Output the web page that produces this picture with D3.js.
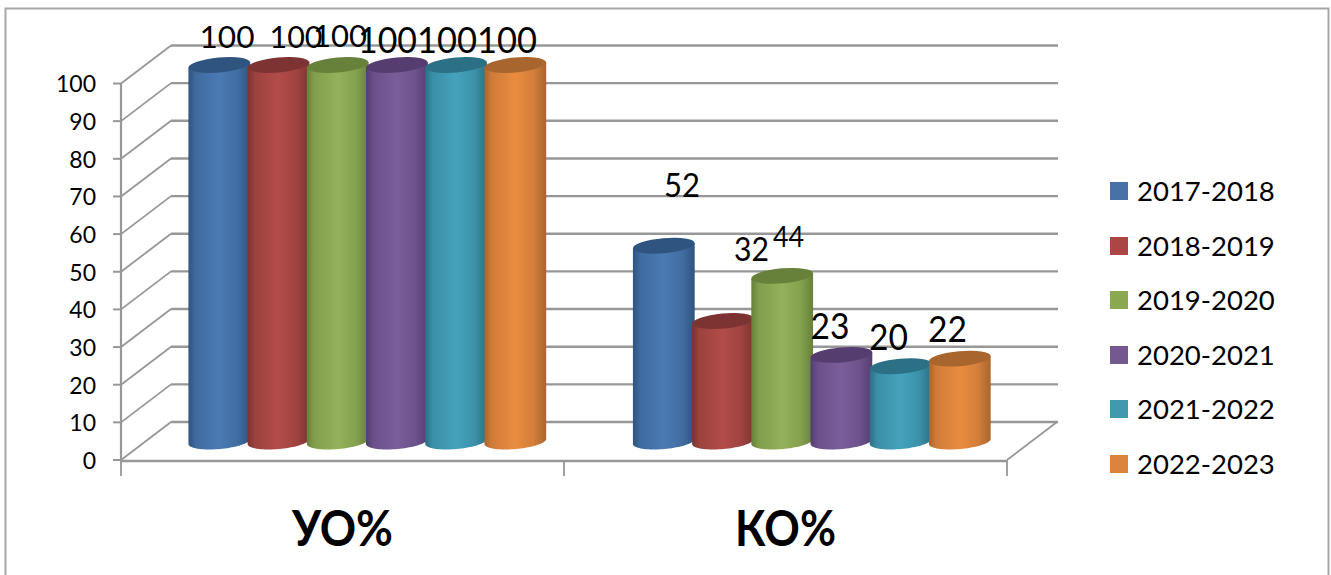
<!DOCTYPE html>
<html><head><meta charset="utf-8">
<script src="https://cdn.jsdelivr.net/npm/d3@7"></script>
<style>html,body{margin:0;padding:0;background:#fff;overflow:hidden}svg{display:block}text{font-family:Lato,"Open Sans",sans-serif;fill:#000}</style>
</head><body><div id="c"></div>
<script>
const categories = ["УО%", "КО%"];
const seriesNames = ["2017-2018","2018-2019","2019-2020","2020-2021","2021-2022","2022-2023"];
const uoValues = [100,100,100,100,100,100];
const koValues = [52,32,44,23,20,22];
const yTicks = [0,10,20,30,40,50,60,70,80,90,100];
const colors = ["#4a7ab3","#b24c49","#93b25a","#7a5d9a","#45a2bd","#e98c40"];
const darks  = ["#2f5480","#7c3331","#67803a","#553d70","#2b7085","#a9652e"];
const legendColors = ["#4672a8","#aa4643","#8ba74f","#74588f","#4198af","#db843d"];

const W=1331,H=575;
const svg=d3.select("#c").append("svg").attr("width",W).attr("height",H);
const defs=svg.append("defs");
colors.forEach((c,i)=>{
  const g=defs.append("linearGradient").attr("id","g"+i);
  [[0,darks[i]],[.12,d3.interpolateRgb(darks[i],c)(.6)],[.5,c],[.8,d3.interpolateRgb(darks[i],c)(.65)],[1,darks[i]]]
    .forEach(([o,k])=>g.append("stop").attr("offset",o).attr("stop-color",k));
});
svg.append("rect").attr("x",5.5).attr("y",8.5).attr("width",1323).attr("height",580)
  .attr("fill","#fff").attr("stroke","#a6a6a6").attr("stroke-width",2);

const y=d3.scaleLinear().domain([0,100]).range([460,83.5]);
const x=d3.scaleBand().domain(categories).range([121,1007]);
const dx=50,dy=-38;
const grid="#979797";
const g=svg.append("g").attr("fill","none").attr("stroke",grid);
const [x0,x1]=x.range();
yTicks.forEach(t=>{
  g.append("path").attr("stroke-width",1.8).attr("d",`M${x0},${y(t)}L${x0+dx},${y(t)+dy}`);
  g.append("path").attr("stroke-width",2.4).attr("d",`M${x0+dx},${y(t)+dy}H${x1+dx+1}`);
  g.append("path").attr("stroke-width",2).attr("d",`M${x0-8},${y(t)}H${x0}`);
});
g.append("path").attr("stroke-width",2.2).attr("d",`M${x0},${y(0)}V${y(100)}`);
g.append("path").attr("stroke-width",2.4).attr("d",`M${x0},${y(0)+1}H${x1}`);
g.append("path").attr("stroke-width",1.8).attr("d",`M${x1},${y(0)}L${x1+dx},${y(0)+dy}`);
[x0,x(categories[1]),x1].forEach(px=>
  g.append("path").attr("stroke-width",1.8).attr("d",`M${px},${y(0)}V${y(0)+16}`));

yTicks.forEach(t=>svg.append("text").attr("x",96).attr("y",y(t)+8.8).attr("text-anchor","end")
  .attr("font-size",23).text(t));

categories.forEach(c=>svg.append("text").attr("x",x(c)+x.bandwidth()/2).attr("y",546)
  .attr("text-anchor","middle").attr("font-size",49).attr("font-weight",700)
  .attr("textLength",101).attr("lengthAdjust","spacingAndGlyphs").text(c));

// cylinders
const step=59.2, cw=62, ry=7.5, tilt=-5*Math.PI/180, baseDrop=18.5;
const rx=cw/2;
const groupStart=[188.3,632.8];
const pt=(cx,cy,a)=>{
  const ex=rx*Math.cos(a), ey=ry*Math.sin(a);
  return [cx+ex*Math.cos(tilt)-ey*Math.sin(tilt), cy+ex*Math.sin(tilt)+ey*Math.cos(tilt)];
};
const line=d3.line();
function cyl(px,v,i){
  const top=y(v)-baseDrop, bot=y(0)-baseDrop, cx=px+rx;
  const pts=[pt(cx,top,Math.PI)];
  d3.range(0,41).forEach(k=>pts.push(pt(cx,bot,Math.PI-k/40*Math.PI)));
  pts.push(pt(cx,top,0));
  const gg=svg.append("g");
  gg.append("path").attr("fill",`url(#g${i})`).attr("d",line(pts)+"Z");
  gg.append("ellipse").attr("cx",cx).attr("cy",top).attr("rx",rx).attr("ry",ry)
    .attr("transform",`rotate(${tilt*180/Math.PI} ${cx} ${top})`).attr("fill",darks[i]);
}
[uoValues,koValues].forEach((vals,k)=>vals.forEach((v,i)=>cyl(groupStart[k]+i*step,v,i)));

// data labels: x, baseline, font size, drawn width
const labelStyle=[
 [[227,48,31,55],[296,48,31,53],[340,47,31,54],[387.5,53,36,59],[447,53,36,60],[507,53,36,60]],
 [[682,197,33,36],[751.5,261,33,35],[788.5,247,28,31],[830,339,37,39],[888.5,350,37,39],[947.5,342,37,39]]
];
[uoValues,koValues].forEach((vals,k)=>vals.forEach((v,i)=>{
  const [lx,ly,fs,tw]=labelStyle[k][i];
  svg.append("text").attr("x",lx).attr("y",ly).attr("text-anchor","middle").attr("font-size",fs)
    .attr("textLength",tw).attr("lengthAdjust","spacingAndGlyphs").text(v);
}));

// legend
const legendY=[191,246,300,355,409,464];
seriesNames.forEach((s,i)=>{
  svg.append("rect").attr("x",1110).attr("y",legendY[i]-9).attr("width",18).attr("height",18).attr("fill",legendColors[i]);
  svg.append("text").attr("x",1137).attr("y",legendY[i]+9.5).attr("font-size",27.5).text(s);
});
</script></body></html>
